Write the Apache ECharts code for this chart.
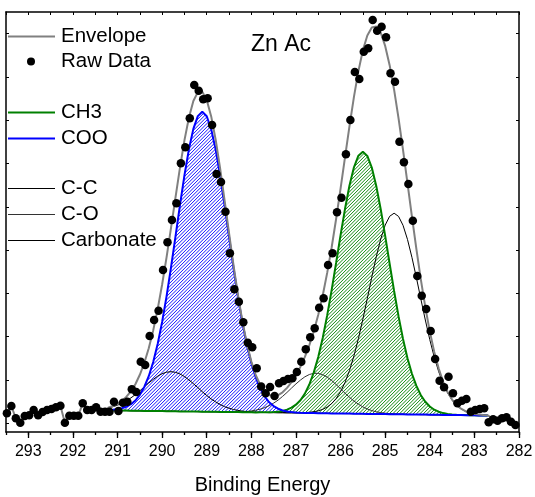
<!DOCTYPE html>
<html>
<head>
<meta charset="utf-8">
<script src="https://cdn.jsdelivr.net/npm/echarts@6/dist/echarts.min.js"></script>
<style>
  html, body { margin: 0; padding: 0; background: #fff; }
  #chart { width: 535px; height: 497px; }
</style>
</head>
<body>
<div id="chart"></div>
<script>
// C 1s scan of zinc acetate: first binding energy, step (eV) and counts (arb. units)
const scanStart = 293.48;
const scanStep = 0.1;
const rawCounts = [
  18.7, 26, 13.7, 9.3, 16, 16.7, 22, 16.7, 20, 22,
  23, 24.7, 26.3, 9.3, 16.3, 16.3, 16.3, 28.7, 22, 22,
  24.7, 20.3, 20.3, 20.3, 30.3, 21, 29.3, 30.3, 42.7, 40,
  70.3, 67, 96, 112, 121.3, 162, 189.7, 212, 228.7, 268.7,
  284.7, 313.7, 347, 341.3, 332.7, 333.7, 307, 258, 250, 220.3,
  178.7, 142.7, 130.3, 109.7, 89.3, 84.7, 63.7, 45.5, 38.7, 45,
  36, 48.7, 51, 53, 53.7, 60, 70.3, 82.7, 94.7, 103.7,
  124.3, 133.7, 167, 178.7, 219.7, 234.3, 277.7, 312, 360, 353,
  380.3, 383.7, 412, 401.3, 405.3, 394.7, 358.7, 350.3, 290.3, 269.7,
  248, 211.3, 156, 136.3, 123, 101, 73, 51.3, 44.7, 55.3,
  38.7, 28.7, 31.3, 33, 20.3, 22, 23, 23.7, 9.7, 12.7,
  11.3, 13.7, 14.7, 10.3, 7
];

// Peak-fit window: first energy and step (eV)
const fitStart = 291.2;
const fitStep = 0.1;

// Linear background under the fit
const fitBaseline = [
  21.6, 21.5, 21.5, 21.4, 21.4, 21.3, 21.2, 21.2, 21.1, 21.1,
  21.0, 20.9, 20.9, 20.8, 20.8, 20.7, 20.6, 20.6, 20.5, 20.5,
  20.4, 20.3, 20.3, 20.2, 20.2, 20.1, 20.0, 20.0, 19.9, 19.9,
  19.8, 19.7, 19.7, 19.6, 19.6, 19.5, 19.4, 19.4, 19.3, 19.3,
  19.2, 19.2, 19.1, 19.0, 19.0, 18.9, 18.9, 18.8, 18.7, 18.7,
  18.6, 18.5, 18.5, 18.4, 18.4, 18.3, 18.3, 18.2, 18.1, 18.1,
  18.0, 18.0, 17.9, 17.8, 17.8, 17.7, 17.7, 17.6, 17.5, 17.5,
  17.4, 17.4, 17.3, 17.2, 17.2, 17.1, 17.1, 17.0, 16.9, 16.9,
  16.8, 16.8, 16.7, 16.6, 16.6, 16.5
];

// Fitted components (height above background)
const peakCOO = [
  0.4, 0.75, 1.4, 2.3, 4.0, 6.5, 10.3, 16.0, 23.9, 34.7,
  49.0, 67.1, 89.2, 115.1, 144.1, 175.0, 206.3, 236.1, 262.2, 282.6,
  295.5, 300, 295.5, 282.6, 262.2, 236.1, 206.3, 175.0, 144.1, 115.1,
  89.2, 67.1, 49.0, 34.7, 23.9, 16.0, 10.3, 6.5, 4.0, 2.3,
  1.4, 0.75, 0.4, 0.2, 0.1, 0, 0, 0, 0, 0,
  0, 0, 0, 0, 0, 0, 0, 0, 0, 0,
  0, 0, 0, 0, 0, 0, 0, 0, 0, 0,
  0, 0, 0, 0, 0, 0, 0, 0, 0, 0,
  0, 0, 0, 0, 0, 0
];
const peakCarbonate = [
  2.6, 3.8, 5.3, 7.4, 9.9, 12.8, 16.2, 20.0, 24.0, 27.9,
  31.6, 34.9, 37.4, 39.0, 39.5, 39.0, 37.4, 34.9, 31.6, 27.9,
  24.0, 20.0, 16.2, 12.8, 9.9, 7.4, 5.3, 3.8, 2.6, 1.7,
  1.1, 0.7, 0.4, 0.27, 0.15, 0.1, 0, 0, 0, 0,
  0, 0, 0, 0, 0, 0, 0, 0, 0, 0,
  0, 0, 0, 0, 0, 0, 0, 0, 0, 0,
  0, 0, 0, 0, 0, 0, 0, 0, 0, 0,
  0, 0, 0, 0, 0, 0, 0, 0, 0, 0,
  0, 0, 0, 0, 0, 0
];
const peakCO = [
  0, 0, 0, 0, 0, 0, 0, 0, 0, 0,
  0, 0, 0, 0, 0, 0, 0, 0, 0, 0,
  0, 0, 0, 0, 0, 0, 0, 0.1, 0.17, 0.3,
  0.52, 0.87, 1.4, 2.2, 3.3, 4.9, 6.9, 9.5, 12.6, 16.3,
  20.4, 24.7, 29.0, 32.9, 36.2, 38.6, 39.8, 39.8, 38.6, 36.2,
  32.9, 29.0, 24.7, 20.4, 16.3, 12.6, 9.5, 6.9, 4.9, 3.3,
  2.2, 1.4, 0.87, 0.52, 0.3, 0.17, 0.1, 0, 0, 0,
  0, 0, 0, 0, 0, 0, 0, 0, 0, 0,
  0, 0, 0, 0, 0, 0
];
const peakCH3 = [
  0, 0, 0, 0, 0, 0, 0, 0, 0, 0,
  0, 0, 0, 0, 0, 0, 0, 0, 0, 0,
  0, 0, 0, 0, 0, 0, 0, 0, 0, 0,
  0, 0, 0, 0, 0.1, 0.15, 0.3, 0.55, 1.0, 1.8,
  3.1, 5.1, 8.2, 12.8, 19.4, 28.6, 40.7, 56.2, 75.3, 97.9,
  123.2, 150.6, 178.3, 204.8, 228.1, 246.4, 258.0, 262, 258.0, 246.4,
  228.1, 204.8, 178.3, 150.6, 123.2, 97.9, 75.3, 56.2, 40.7, 28.6,
  19.4, 12.8, 8.2, 5.1, 3.1, 1.8, 1.0, 0.55, 0.3, 0.15,
  0.1, 0, 0, 0, 0, 0
];
const peakCC = [
  0, 0, 0, 0, 0, 0, 0, 0, 0, 0,
  0, 0, 0, 0, 0, 0, 0, 0, 0, 0,
  0, 0, 0, 0, 0, 0, 0, 0, 0, 0,
  0, 0, 0, 0, 0, 0, 0, 0, 0, 0,
  0, 0, 0.1, 0.2, 0.4, 0.8, 1.4, 2.4, 3.9, 6.3,
  9.8, 14.9, 21.9, 31.2, 43.1, 57.8, 75.1, 94.6, 115.5, 136.8,
  157.1, 175.0, 189.0, 197.9, 201, 197.9, 189.0, 175.0, 157.1, 136.8,
  115.5, 94.6, 75.1, 57.8, 43.1, 31.2, 21.9, 14.9, 9.8, 6.3,
  3.9, 2.4, 1.4, 0.8, 0.4, 0.2
];

// Axis ticks
const energyTicks = [282, 283, 284, 285, 286, 287, 288, 289, 290, 291, 292, 293];
const intensityTicks = [8.7, 52, 95.3, 138.6, 181.9, 225.2, 268.5, 311.8, 355.1, 398.4];

const FONT = '"Liberation Sans", Arial, Helvetica, sans-serif';

// Build [energy, value] tables for the library
const rawPoints = rawCounts.map((v, k) => [+(scanStart - k * scanStep).toFixed(2), v]);
const fitEnergy = fitBaseline.map((_, i) => +(fitStart - i * fitStep).toFixed(2));

function onBackground(peak) {
  return fitEnergy.map((e, i) => [e, fitBaseline[i], fitBaseline[i] + peak[i]]);
}
const rowsCOO = onBackground(peakCOO);
const rowsCH3 = onBackground(peakCH3);
const rowsCC = onBackground(peakCC);
const rowsCO = onBackground(peakCO);
const rowsCarb = onBackground(peakCarbonate);

const fitSum = fitEnergy.map((e, i) => [e,
  fitBaseline[i] + peakCOO[i] + peakCH3[i] + peakCC[i] + peakCO[i] + peakCarbonate[i]]);
const envelope = rawPoints.filter(p => p[0] > fitStart + 0.05)
  .concat(fitSum)
  .concat(rawPoints.filter(p => p[0] < fitEnergy[fitEnergy.length - 1] - 0.05));

// Area between a component and the background, shaded with diagonal hatch lines
function hatchedArea(name, rows, color) {
  const gap = 3.4;
  return {
    type: 'custom',
    name: name,
    silent: true,
    z: 1,
    data: rows,
    encode: { x: 0, y: [1, 2] },
    renderItem: function (params, api) {
      if (params.dataIndex !== 0) return null;
      const upper = rows.map(r => api.coord([r[0], r[2]]));
      const lower = rows.slice().reverse().map(r => api.coord([r[0], r[1]]));
      const pts = upper.concat(lower);
      let x0 = Infinity, x1 = -Infinity, y0 = Infinity, y1 = -Infinity;
      pts.forEach(p => {
        x0 = Math.min(x0, p[0]); x1 = Math.max(x1, p[0]);
        y0 = Math.min(y0, p[1]); y1 = Math.max(y1, p[1]);
      });
      const h = y1 - y0;
      const lines = [];
      for (let x = Math.floor((x0 - h) / gap) * gap; x <= x1; x += gap) {
        lines.push({
          type: 'line',
          shape: { x1: x, y1: y1, x2: x + h, y2: y0 },
          style: { stroke: color, lineWidth: 1 }
        });
      }
      return {
        type: 'group',
        clipPath: { type: 'polygon', shape: { points: pts } },
        children: lines
      };
    }
  };
}

function curve(name, rows, color, width, z) {
  return {
    type: 'line',
    name: name,
    data: rows.map(r => [r[0], r[2]]),
    symbol: 'none',
    z: z,
    lineStyle: { color: color, width: width },
    itemStyle: { color: color }
  };
}

function legendBlock(names, top, left, iconWidth, iconHeight, icon, textPad) {
  return {
    data: names.map(n => ({ name: n, icon: icon })),
    top: top,
    left: left,
    padding: 0,
    orient: 'vertical',
    itemWidth: iconWidth,
    itemHeight: iconHeight,
    itemGap: 5,
    selectedMode: false,
    textStyle: { fontSize: 20.5, lineHeight: 20, color: '#000', fontFamily: FONT, padding: [0, 0, 0, textPad] }
  };
}

const chart = echarts.init(document.getElementById('chart'), null, { renderer: 'canvas' });
chart.setOption({
  animation: false,
  backgroundColor: '#fff',
  grid: { left: 6, right: 16, top: 12, bottom: 65, containLabel: false, outerBoundsMode: 'none' },
  legend: [
    legendBlock(['Envelope'], 26, 8, 47, 2, 'rect', 1),
    legendBlock(['Raw Data'], 51, 27, 8, 8, 'circle', 21),
    legendBlock(['CH3', 'COO'], 102, 8, 47, 2, 'rect', 1),
    legendBlock(['C-C', 'C-O', 'Carbonate'], 178, 8, 47, 1, 'rect', 1)
  ],
  graphic: [{
    type: 'text', left: 251, top: 33,
    style: { text: 'Zn Ac', fontSize: 23, fontFamily: FONT, fill: '#000' }
  }],
  xAxis: [
    {
      type: 'value', position: 'bottom', inverse: true, min: 282, max: 293.5,
      name: 'Binding Energy', nameLocation: 'middle', nameGap: 43,
      nameTextStyle: { fontSize: 20, color: '#000', fontFamily: FONT },
      axisLine: { show: true, lineStyle: { color: '#000', width: 1.5 } },
      axisTick: { show: true, customValues: energyTicks, length: 6, lineStyle: { color: '#000', width: 1.3 } },
      axisLabel: { show: true, customValues: energyTicks, margin: 12, fontSize: 16, color: '#000', fontFamily: FONT },
      splitLine: { show: false }
    },
    {
      type: 'value', position: 'bottom', inverse: true, min: 282, max: 293.5, interval: 0.5,
      axisLine: { show: false },
      axisTick: { show: true, length: 3, lineStyle: { color: '#000', width: 1.3 } },
      axisLabel: { show: false },
      splitLine: { show: false }
    },
    {
      type: 'value', position: 'top', inverse: true, min: 282, max: 293.5, interval: 0.5,
      axisLine: { show: true, lineStyle: { color: '#000', width: 1.5 } },
      axisTick: { show: true, inside: true, length: 3, lineStyle: { color: '#000', width: 1 } },
      axisLabel: { show: false },
      splitLine: { show: false }
    }
  ],
  yAxis: [
    {
      type: 'value', position: 'left', min: 0, max: 420,
      axisLine: { show: true, lineStyle: { color: '#000', width: 1.5 } },
      axisTick: { show: true, inside: true, customValues: intensityTicks, length: 3, lineStyle: { color: '#000', width: 1 } },
      axisLabel: { show: false },
      splitLine: { show: false }
    },
    {
      type: 'value', position: 'right', min: 0, max: 420,
      axisLine: { show: true, lineStyle: { color: '#000', width: 1.5 } },
      axisTick: { show: true, inside: true, customValues: intensityTicks, length: 3, lineStyle: { color: '#000', width: 1 } },
      axisLabel: { show: false },
      splitLine: { show: false }
    }
  ],
  series: [
    hatchedArea('COO area', rowsCOO, '#1414ff'),
    hatchedArea('CH3 area', rowsCH3, '#118811'),
    curve('C-C', rowsCC, '#000', 1, 2),
    curve('C-O', rowsCO, '#333', 1, 2),
    curve('Carbonate', rowsCarb, '#000', 1, 2),
    curve('CH3', rowsCH3, '#008000', 2, 3),
    curve('COO', rowsCOO, '#0000ff', 2, 3),
    {
      type: 'line', name: 'Envelope', data: envelope, symbol: 'none', z: 4,
      lineStyle: { color: '#808080', width: 2 }, itemStyle: { color: '#808080' }
    },
    {
      type: 'scatter', name: 'Raw Data', data: rawPoints, symbol: 'circle', symbolSize: 8.5, z: 5,
      itemStyle: { color: '#000', opacity: 1 }
    }
  ]
});
</script>
</body>
</html>
